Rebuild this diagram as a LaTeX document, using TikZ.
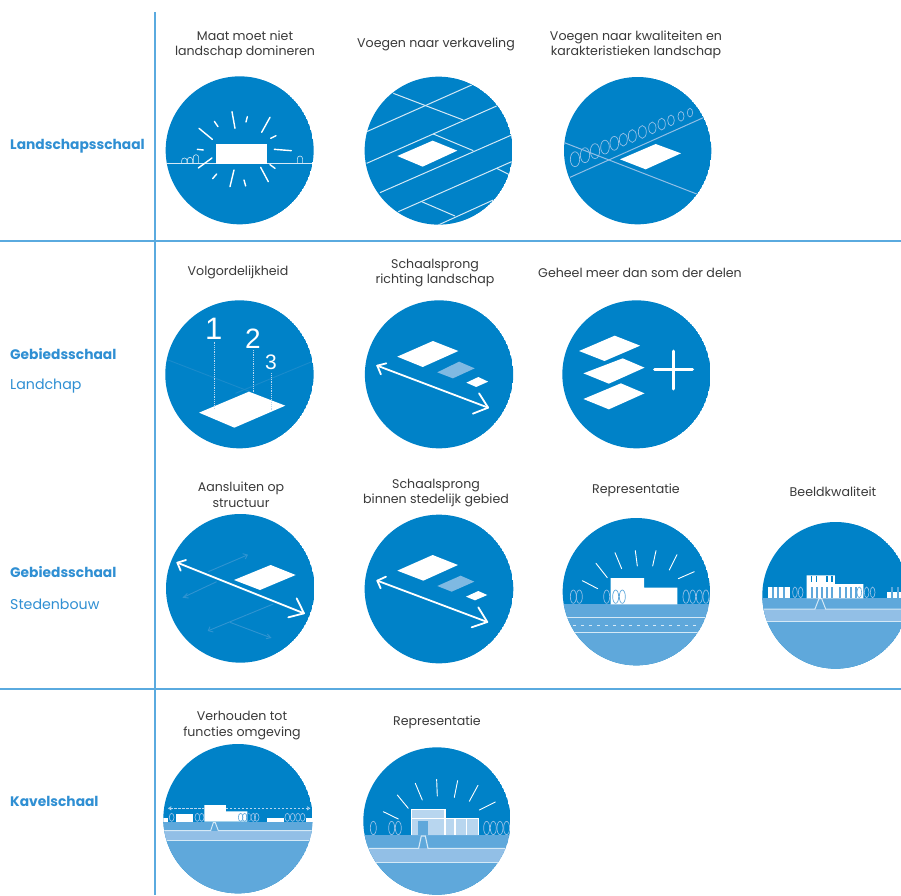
\documentclass[tikz,border=0pt]{standalone}
\usepackage{fontspec}
\setmainfont{Poppins}
\newfontfamily\digitfont{Liberation Sans}
\definecolor{diskblue}{HTML}{0082C8}
\definecolor{midblue}{HTML}{5FA8DB}
\definecolor{lightblue}{HTML}{92BFE6}
\definecolor{paleblue}{HTML}{B8D6EF}
\definecolor{softwhite}{HTML}{D5E9F6}
\definecolor{rule}{HTML}{5AAADF}
\definecolor{headblue}{HTML}{2F8FD3}
\definecolor{faint}{HTML}{3094D1}
\definecolor{fainter}{HTML}{1A8BCC}
\definecolor{textgray}{HTML}{3A3A3A}
\tikzset{
  zm/.style 2 args={shift={(#1,#2)},x=0.3333pt,y=-0.3333pt},
  zn/.style 2 args={shift={(#1,#2)},x=0.3636pt,y=-0.3333pt},
  gridline/.style={draw=rule,line width=1.7pt},
  caption/.style={font=\fontsize{12.6}{15.5}\selectfont,text=textgray,align=center,inner sep=0pt},
  headb/.style={font=\fontsize{13.8}{15}\selectfont\bfseries,text=headblue,anchor=west,inner sep=0pt},
  headr/.style={font=\fontsize{14.2}{15}\selectfont,text=headblue,anchor=west,inner sep=0pt},
  wl/.style={draw=softwhite,line width=1pt},
  ray/.style={draw=white,line width=1.4pt,line cap=round},
  fl/.style={draw=faint,line width=0.9pt},
  arrowline/.style={draw=white,line width=1.8pt,line cap=round,line join=round},
  tree/.style={draw=lightblue,line width=0.7pt},
  num/.style={text=white,inner sep=0pt}
}
\begin{document}
\begin{tikzpicture}[x=1pt,y=-1pt]
\clip (0,0) rectangle (901,895);
\fill[white] (0,0) rectangle (901,895);
% grid
\draw[gridline] (155,12) -- (155,895);
\draw[gridline] (0,241) -- (901,241);
\draw[gridline] (0,689) -- (901,689);
% row headings
\node[headb] (h1) at (10,146.5) {Landschapsschaal};
\node[headb] (h2) at (10,354) {Gebiedsschaal};
\node[headr] (h2b) at (10,386) {Landchap};
\node[headb] (h3) at (10,572) {Gebiedsschaal};
\node[headr] (h3b) at (10,604) {Stedenbouw};
\node[headb] (h4) at (10,801) {Kavelschaal};
% captions
\node[caption] (c11) at (245,45) {Maat moet niet\\landschap domineren};
\node[caption] (c12) at (436,44.5) {Voegen naar verkaveling};
\node[caption] (c13) at (636,45) {Voegen naar kwaliteiten en\\karakteristieken landschap};
\node[caption] (c21) at (238,272.5) {Volgordelijkheid};
\node[caption] (c22) at (435,273) {Schaalsprong\\richting landschap};
\node[caption] (c23) at (640,272.5) {Geheel meer dan som der delen};
\node[caption] (c31) at (241,494.5) {Aansluiten op\\structuur};
\node[caption] (c32) at (436,493) {Schaalsprong\\binnen stedelijk gebied};
\node[caption] (c33) at (636,490.5) {Representatie};
\node[caption] (c34) at (833,491.5) {Beeldkwaliteit};
\node[caption] (c41) at (242,725.5) {Verhouden tot\\functies omgeving};
\node[caption] (c42) at (437,722.5) {Representatie};

% --- Maat moet niet
\begin{scope}[zm={150}{60}]
\clip (269,271) circle (222);
\fill[diskblue] (269,271) circle (222);
\draw[wl] (47,312) -- (490,312);
\fill[white] (197,253) rectangle (352,312);
\foreach \a/\b/\c/\d in {147/205/187/238,193/184/204/200,246/155/255/205,292/170/288/186,360/172/335/217,378/227/362/235,373/268/424/272,142/268/160/270,186/294/145/324,360/314/375/325,332/322/355/365,252/330/240/380,282/360/287/378,200/342/188/356}
  \draw[ray] (\a,\b) -- (\c,\d);
\foreach \a/\h in {95/10,112/12,130/20,442/16}
  \draw[draw=softwhite,line width=0.6pt] (\a,312) -- (\a,312-\h) arc (180:360:8) -- (\a+16,312);
\end{scope}
% --- Voegen naar verkaveling
\begin{scope}[zm={150}{60}]
\clip (866,272) circle (222);
\fill[diskblue] (866,272) circle (222);
\foreach \a/\b/\c/\d in {650/215/965/75,650/310/1040/138,690/398/1085/225,745/455/1085/305,865/495/1030/420,730/100/940/180,850/222/970/272,815/425/915/468,1040/325/1080/345}
  \draw[wl] (\a,\b) -- (\c,\d);
\fill[white] (742,288) -- (848,242) -- (922,272) -- (818,320) -- cycle;
\end{scope}
% --- Voegen naar kwaliteiten
\begin{scope}[zm={555}{70}]
\clip (248,242) circle (221);
\fill[diskblue] (248,242) circle (221);
\draw[wl,draw=lightblue] (28,218) -- (425,372);
\draw[wl,draw=lightblue] (45,322) -- (445,143);
\foreach \a/\r in {60/14,90/14,120/14,150/13,178/13,205/12,232/12,262/12,292/11,320/11,348/10,378/9,405/8}
  \draw[draw=lightblue,line width=0.7pt] (\a,268-\a*0.405+24) ellipse ({\r} and {\r*1.6});
\fill[white] (195,268) -- (302,222) -- (378,250) -- (272,298) -- cycle;
\end{scope}
% --- Volgordelijkheid
\begin{scope}[zn={150}{295}]
\clip (246,238) ellipse (204 and 222);
\fill[diskblue] (246,238) ellipse (204 and 222);
\draw[draw=fainter,line width=0.9pt] (50,195) -- (275,290);
\draw[draw=fainter,line width=0.9pt] (445,200) -- (235,295);
\fill[white] (135,353) -- (272,290) -- (372,332) -- (232,398) -- cycle;
\draw[draw=paleblue,line width=0.8pt,densely dotted] (177,140) -- (177,345);
\draw[draw=paleblue,line width=0.8pt,densely dotted] (284,165) -- (284,290);
\draw[draw=paleblue,line width=0.8pt,densely dotted] (335,235) -- (335,345);
\node[num,font=\digitfont\fontsize{31}{31}\selectfont] (n1) at (175,100) {1};
\node[num,font=\digitfont\fontsize{28}{28}\selectfont] (n2) at (283,131) {2};
\node[num,font=\digitfont\fontsize{21}{21}\selectfont] (n3) at (333,203) {3};
\end{scope}
% --- Schaalsprong richting landschap
\begin{scope}[zn={150}{295}]
\clip (795,238) ellipse (204 and 222);
\fill[diskblue] (795,238) ellipse (204 and 222);
\fill[white] (680,185) -- (778,138) -- (848,168) -- (750,216) -- cycle;
\fill[midblue!80!white] (790,232) -- (850,200) -- (893,220) -- (833,250) -- cycle;
\fill[white] (870,263) -- (903,246) -- (930,260) -- (897,276) -- cycle;
\draw[arrowline] (625,212) -- (930,338);
\draw[arrowline] (650,205) -- (625,212) -- (635,238);
\draw[arrowline] (905,295) -- (930,338) -- (888,356);
\end{scope}
% --- Geheel meer
\begin{scope}[zn={150}{295}]
\clip (1338,238) ellipse (204 and 222);
\fill[diskblue] (1338,238) ellipse (204 and 222);
\fill[white] (1180,168) -- (1278,122) -- (1348,152) -- (1250,198) -- cycle;
\fill[white] (1192,235) -- (1300,190) -- (1360,218) -- (1262,266) -- cycle;
\fill[white] (1192,312) -- (1295,265) -- (1360,295) -- (1262,343) -- cycle;
\draw[draw=white,line width=3pt,line cap=round] (1388,224) -- (1492,224);
\draw[draw=white,line width=3pt,line cap=round] (1440,168) -- (1440,282);
\end{scope}
% --- Aansluiten op structuur
\begin{scope}[zm={150}{510}]
\clip (271,235) circle (223);
\fill[diskblue] (271,235) circle (223);
\draw[fl] (100,262) -- (200,215);
\draw[fl] (175,185) -- (292,135);
\draw[fl] (175,362) -- (370,282);
\draw[fl] (240,337) -- (362,383);
\draw[fl] (112,250) -- (100,262) -- (116,264);
\draw[fl] (278,131) -- (292,135) -- (286,147);
\draw[fl] (180,350) -- (175,362) -- (190,366);
\draw[fl] (352,372) -- (362,383) -- (348,386);
\fill[white] (252,210) -- (362,165) -- (437,195) -- (330,240) -- cycle;
\draw[arrowline] (82,158) -- (462,310);
\draw[arrowline] (108,150) -- (82,158) -- (92,182);
\draw[arrowline] (440,265) -- (462,310) -- (415,322);
\end{scope}
% --- Schaalsprong binnen stedelijk gebied
\begin{scope}[zm={150}{510}]
\clip (867,237) circle (223);
\fill[diskblue] (867,237) circle (223);
\fill[white] (742,182) -- (848,135) -- (924,165) -- (820,212) -- cycle;
\fill[midblue!80!white] (862,228) -- (932,197) -- (973,215) -- (905,245) -- cycle;
\fill[white] (948,260) -- (985,243) -- (1012,255) -- (975,271) -- cycle;
\draw[arrowline] (682,212) -- (1012,336);
\draw[arrowline] (708,200) -- (682,212) -- (692,235);
\draw[arrowline] (985,292) -- (1012,336) -- (965,352);
\end{scope}
% --- Representatie (stedenbouw)
\begin{scope}[zm={550}{510}]
\clip (259,245) circle (221);
\fill[diskblue] (259,245) circle (221);
\fill[midblue] (0,281) rectangle (520,480);
\draw[wl,line width=1.1pt] (0,323) -- (520,323);
\draw[wl,line width=1.1pt] (0,367) -- (520,367);
\draw[draw=softwhite,line width=1.1pt,dash pattern=on 3pt off 5pt] (70,346) -- (450,346);
\foreach \a in {70,88,170,408,428,448,468}
  \draw[tree] (\a,260) ellipse (9 and 20);
\fill[white] (182,204) -- (282,204) -- (282,233) -- (382,233) -- (382,283) -- (182,283) -- cycle;
\foreach \a/\b/\c/\d in {97/212/143/236,138/160/172/203,195/128/215/176,256/122/262/168,318/122/308/168,381/134/358/180,433/185/385/206}
  \draw[ray,line width=0.9pt] (\a,\b) -- (\c,\d);
\foreach \a in {197,217}
  \draw[draw=midblue,line width=0.7pt] (\a,260) ellipse (9 and 20);
\end{scope}
% --- Beeldkwaliteit
\begin{scope}[zm={550}{510}]
\clip (857,256) circle (220);
\fill[diskblue] (857,256) circle (220);
\fill[midblue] (600,265) rectangle (1090,480);
\fill[lightblue] (600,297) rectangle (1090,335);
\draw[wl] (600,297) -- (795,297) -- (807,266) -- (815,266) -- (827,297) -- (1090,297);
\draw[wl] (600,335) -- (1090,335);
\foreach \a in {735,752}
  \draw[tree] (\a,247) ellipse (7 and 16);
\foreach \a in {932,950,968}
  \draw[tree] (\a,247) ellipse (7 and 16);
\fill[white] (653,230) rectangle (720,265);
\fill[white] (770,196) -- (855,196) -- (855,222) -- (940,222) -- (940,265) -- (770,265) -- cycle;
\fill[white] (1012,247) rectangle (1060,265);
\foreach \a in {665,682,698,782,797,812,828,843,868,884,900,916,1022,1040}
  \fill[midblue] (\a,232) rectangle (\a+6,265);
\foreach \a in {782,797,828,843}
  \fill[diskblue] (\a,198) rectangle (\a+5,215);
\fill[white] (770,215) rectangle (855,222);
\draw[draw=midblue,line width=0.6pt] (928,247) ellipse (7 and 16);
\end{scope}
% --- Verhouden tot functies omgeving
\begin{scope}[zm={150}{740}]
\clip (264,236) circle (224);
\fill[diskblue] (264,236) circle (224);
\fill[white] (0,233) rectangle (55,245);
\fill[white] (467,233) rectangle (530,245);
\fill[midblue] (0,247) rectangle (530,470);
\fill[lightblue] (0,272) rectangle (530,300);
\draw[wl] (0,272) -- (182,272) -- (190,248) -- (196,248) -- (205,272) -- (530,272);
\draw[wl] (0,300) -- (530,300);
\foreach \a in {65,142,155,310,320,412,428,444,458}
  \draw[tree] (\a,232) ellipse (7 and 12);
\fill[white] (77,222) rectangle (130,245);
\fill[white] (163,195) -- (228,195) -- (228,214) -- (292,214) -- (292,245) -- (163,245) -- cycle;
\fill[white] (350,233) rectangle (402,245);
\foreach \a in {272,284,296}
  \draw[draw=midblue,line width=0.6pt] (\a,232) ellipse (7 and 12);
\draw[draw=paleblue,line width=0.8pt,dash pattern=on 2.5pt off 1.5pt] (60,205) -- (163,205);
\draw[draw=paleblue,line width=0.8pt,dash pattern=on 2.5pt off 1.5pt] (228,205) -- (475,205);
\draw[draw=paleblue,line width=0.8pt] (64,200) -- (56,205) -- (64,210);
\draw[draw=paleblue,line width=0.8pt] (471,200) -- (479,205) -- (471,210);
\end{scope}
% --- Representatie (kavel)
\begin{scope}[zm={150}{740}]
\clip (861,243) circle (221);
\fill[diskblue] (861,243) circle (221);
\fill[midblue] (620,285) rectangle (1100,480);
\fill[lightblue] (620,325) rectangle (1100,368);
\draw[wl,line width=1.1pt] (620,325) -- (806,325) -- (814,288) -- (826,288) -- (834,325) -- (1100,325);
\draw[wl,line width=1.1pt] (620,368) -- (1100,368);
\foreach \a in {670,725,745,1010,1030,1050,1070}
  \draw[tree] (\a,264) ellipse (9 and 20);
\fill[paleblue] (785,208) -- (885,208) -- (885,235) -- (985,235) -- (985,285) -- (785,285) -- cycle;
\draw[draw=white,line width=1.1pt] (785,285) -- (785,208) -- (885,208) -- (885,235) -- (985,235) -- (985,285);
\draw[draw=white,line width=1.1pt] (785,235) -- (885,235) -- (885,285);
\foreach \a in {915,950}
  \draw[draw=white,line width=1.1pt] (\a,235) -- (\a,285);
\fill[midblue] (805,243) rectangle (835,285);
\foreach \a/\b/\c/\d in {700/215/745/237,742/165/775/205,796/130/817/180,860/118/862/168,923/122/913/172,984/136/958/184,1036/186/988/210}
  \draw[ray,line width=0.9pt] (\a,\b) -- (\c,\d);
\end{scope}
\end{tikzpicture}
\end{document}
